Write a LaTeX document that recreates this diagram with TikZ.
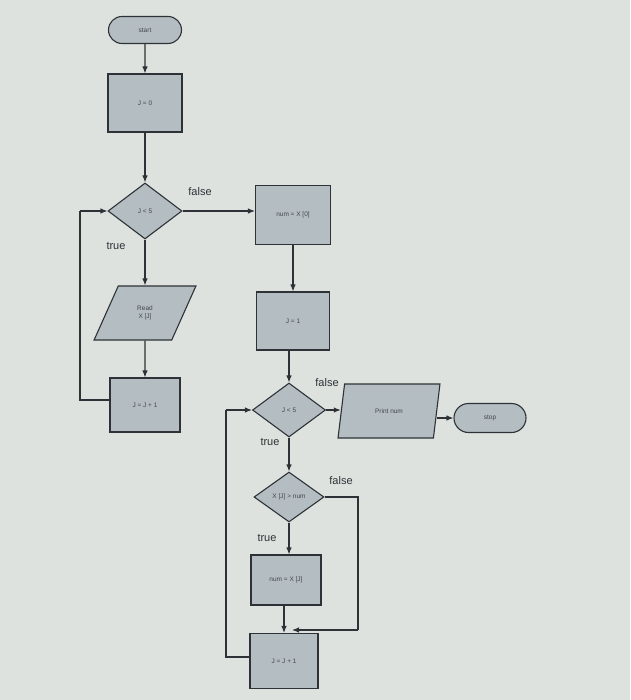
\documentclass[tikz,border=0pt]{standalone}
\usepackage{fontspec}
\setmainfont{Liberation Sans}
\usetikzlibrary{shapes.geometric,shapes.misc,arrows.meta}
\definecolor{bg}{HTML}{DDE2DF}
\definecolor{boxfill}{HTML}{B4BEC2}
\definecolor{ln}{HTML}{2E3236}
\begin{document}
\begin{tikzpicture}[x=1pt,y=-1pt,
  every node/.style={font=\fontsize{6.5}{7.5}\selectfont, text=ln!90},
  base/.style={draw=ln, line width=1.1pt, fill=boxfill, inner sep=1pt, align=center},
  term/.style={base, rounded rectangle, minimum width=75pt, minimum height=27pt},
  proc/.style={base, rectangle, minimum width=74pt, minimum height=58pt},
  dec/.style={base, diamond, minimum width=74pt, minimum height=56pt, inner sep=0pt},
  io/.style={base, trapezium, trapezium stretches=true, trapezium left angle=#1, trapezium right angle=180-#1, minimum width=102pt, minimum height=54pt},
  lab/.style={font=\fontsize{11}{13}\selectfont, text=ln},
  conn/.style={draw=ln, line width=1.1pt, -{Latex[length=7pt,width=5.5pt]}},
  plain/.style={draw=ln, line width=1.1pt}
]
\useasboundingbox (0,0) rectangle (630,700);
\fill[bg] (0,0) rectangle (630,700);

% left column
\node[term] (start) at (145,30) {start};
\node[proc] (j0) at (145,103) {J = 0};
\node[dec] (d1) at (145,211) {J < 5};
\node[io=63] (read) at (145,313) {Read\\X [J]};
\node[proc, minimum width=70pt, minimum height=54pt] (inc1) at (145,405) {J = J + 1};

% middle column
\node[proc, minimum width=75pt, minimum height=59pt] (n0) at (293,215) {num = X [0]};
\node[proc, minimum width=73pt, minimum height=58pt] (j1) at (293,321) {J = 1};
\node[dec, minimum width=73pt, minimum height=54pt] (d2) at (289,410) {J < 5};
\node[dec, minimum width=70pt, minimum height=50pt] (d3) at (289,497) {X [J] > num};
\node[proc, minimum width=70pt, minimum height=50pt] (n1) at (286,580) {num = X [J]};
\node[proc, minimum width=68pt, minimum height=55pt] (inc2) at (284,661) {J = J + 1};

% right
\node[io=72] (print) at (389,411) {Print num};
\node[term, minimum width=74pt, minimum height=29pt] (stop) at (490,418) {stop};

\coordinate (l1a) at (80,400);
\coordinate (l1b) at (80,211);
\coordinate (l2a) at (226,657);
\coordinate (l2b) at (226,410);
\coordinate (f3a) at (358,497);
\coordinate (f3b) at (358,630);
\coordinate (f3c) at (292,630);

\draw[conn] (start) -- (j0);
\draw[conn] (j0) -- (d1);
\draw[conn] (d1.east) -- (d1.east -| n0.west);
\draw[conn] (d1) -- (read);
\draw[conn] (read) -- (inc1);
\draw[plain] (inc1.west |- l1a) -- (l1a) -- (l1b);
\draw[conn] (l1b) -- (d1.west);

\draw[conn] (n0) -- (j1);
\draw[conn] (j1.south -| d2.north) -- (d2);
\draw[conn] (d2.east) -- (d2.east -| print.west);
\draw[conn] (print.east |- stop.west) -- (stop.west);
\draw[conn] (d2) -- (d3);
\draw[conn] (d3.south) -- (d3.south |- n1.north);
\draw[plain] (d3.east) -- (f3a) -- (f3b);
\draw[conn] (f3b) -- (f3c);
\draw[conn] (n1.south -| inc2.north) -- (inc2.north);
\draw[plain] (inc2.west |- l2a) -- (l2a) -- (l2b);
\draw[conn] (l2b) -- (d2.west);

% labels
\node[lab] (lf1) at (200,192) {false};
\node[lab] (lt1) at (116,246) {true};
\node[lab] (lf2) at (327,383) {false};
\node[lab] (lt2) at (270,442) {true};
\node[lab] (lf3) at (341,481) {false};
\node[lab] (lt3) at (267,538) {true};
\end{tikzpicture}
\end{document}
